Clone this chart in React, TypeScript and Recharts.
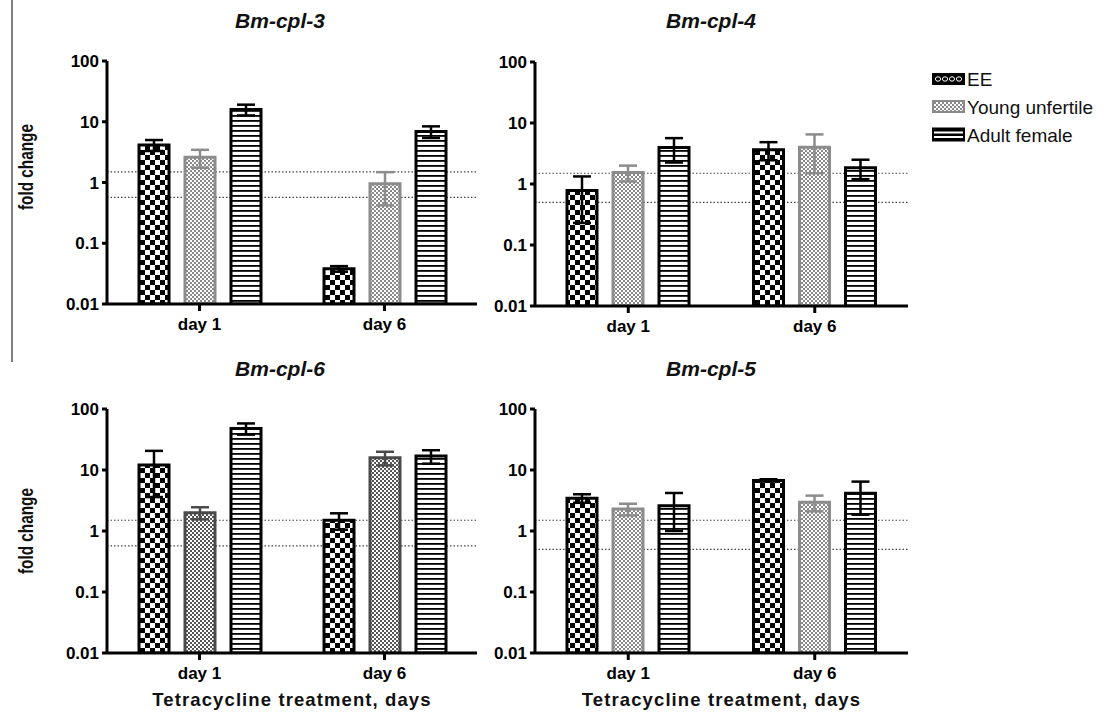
import React from "react";
import { BarChart, Bar, XAxis, YAxis, ErrorBar, ReferenceLine, Label } from "recharts";

const FONT = "Arial, 'Liberation Sans', Helvetica, sans-serif";

const days = ["day 1", "day 6"];
const seriesNames = ["EE", "Young unfertile", "Adult female"];
const yTicks = [0.01, 0.1, 1, 10, 100];
const yDomain = [0.01, 100];

// Bm-cpl-3
const cpl3EE = [4.15, 0.038];
const cpl3EEErr = [0.85, 0.004];
const cpl3YU = [2.6, 0.95];
const cpl3YUErr = [0.85, 0.53];
const cpl3AF = [15.9, 6.9];
const cpl3AFErr = [3.2, 1.5];
const cpl3Cut = [1.5, 0.57];

// Bm-cpl-4
const cpl4EE = [0.78, 3.65];
const cpl4EEErr = [0.55, 1.2];
const cpl4YU = [1.55, 4.0];
const cpl4YUErr = [0.45, 2.5];
const cpl4AF = [3.95, 1.85];
const cpl4AFErr = [1.7, 0.65];
const cpl4Cut = [1.5, 0.5];

// Bm-cpl-6
const cpl6EE = [12.1, 1.5];
const cpl6EEErr = [8.5, 0.45];
const cpl6YU = [2.0, 15.9];
const cpl6YUErr = [0.45, 4];
const cpl6AF = [48, 16.9];
const cpl6AFErr = [10, 4.2];
const cpl6Cut = [1.5, 0.57];

// Bm-cpl-5
const cpl5EE = [3.45, 6.75];
const cpl5EEErr = [0.55, 0.3];
const cpl5YU = [2.3, 2.95];
const cpl5YUErr = [0.5, 0.85];
const cpl5AF = [2.6, 4.15];
const cpl5AFErr = [1.6, 2.3];
const cpl5Cut = [1.5, 0.5];

type PanelProps = {
  id: string;
  x: number;
  y: number;
  w: number;
  h: number;
  margin: { top: number; right: number; left: number; bottom: number };
  yAxisWidth: number;
  xAxisHeight: number;
  ee: number[];
  eeErr: number[];
  yu: number[];
  yuErr: number[];
  af: number[];
  afErr: number[];
  cut: number[];
  yuStroke: string;
  yuFill: string;
  xTitle?: boolean;
};

function Panel(p: PanelProps) {
  const data = days.map((day, i) => ({
    day,
    ee: p.ee[i],
    eeErr: p.eeErr[i],
    yu: p.yu[i],
    yuErr: p.yuErr[i],
    af: p.af[i],
    afErr: p.afErr[i],
  }));
  const axisStyle = { stroke: "#000", strokeWidth: 3 };
  const tickStyle = { fill: "#000", fontSize: 17, fontWeight: "bold", fontFamily: FONT };
  return (
    <div style={{ position: "absolute", left: p.x, top: p.y }}>
      <BarChart width={p.w} height={p.h} data={data} margin={p.margin} barGap={16}>
        <defs>
          <pattern id={`${p.id}-ee`} patternUnits="userSpaceOnUse" width={10} height={10}>
            <rect width={10} height={10} fill="#fff" />
            <rect width={5} height={5} fill="#000" />
            <rect x={5} y={5} width={5} height={5} fill="#000" />
          </pattern>
          <pattern id={`${p.id}-yu`} patternUnits="userSpaceOnUse" width={4} height={4}>
            <rect width={4} height={4} fill="#fff" />
            <rect width={2} height={2} fill={p.yuFill} />
            <rect x={2} y={2} width={2} height={2} fill={p.yuFill} />
          </pattern>
          <pattern id={`${p.id}-af`} patternUnits="userSpaceOnUse" width={10} height={5}>
            <rect width={10} height={5} fill="#fff" />
            <rect width={10} height={1.8} fill="#000" />
          </pattern>
        </defs>
        <XAxis
          dataKey="day"
          height={p.xAxisHeight}
          axisLine={axisStyle}
          tickLine={axisStyle}
          tickSize={7}
          tickMargin={7}
          tick={tickStyle}
        >
          {p.xTitle && (
            <Label
              value="Tetracycline treatment, days"
              position="insideBottom"
              offset={9}
              style={{ fill: "#111", fontSize: 18.5, fontWeight: "bold", fontFamily: FONT, letterSpacing: 1.1 }}
            />
          )}
        </XAxis>
        <YAxis
          type="number"
          scale="log"
          domain={yDomain}
          ticks={yTicks}
          allowDataOverflow
          width={p.yAxisWidth}
          axisLine={axisStyle}
          tickLine={axisStyle}
          tickSize={5}
          tickMargin={3}
          tick={tickStyle}
          tickFormatter={(v: number) => String(v)}
        />
        {p.cut.map((c) => (
          <ReferenceLine
            key={c}
            y={c}
            stroke="#444"
            strokeWidth={1.2}
            strokeDasharray="1.5 2"
            zIndex={0}
          />
        ))}
        <Bar dataKey="ee" name={seriesNames[0]} fill={`url(#${p.id}-ee)`} stroke="#000" strokeWidth={3} barSize={30} isAnimationActive={false}>
          <ErrorBar dataKey="eeErr" direction="y" width={9} stroke="#000" strokeWidth={2.5} />
        </Bar>
        <Bar dataKey="yu" name={seriesNames[1]} fill={`url(#${p.id}-yu)`} stroke={p.yuStroke} strokeWidth={3} barSize={30} isAnimationActive={false}>
          <ErrorBar dataKey="yuErr" direction="y" width={9} stroke={p.yuStroke} strokeWidth={2.5} />
        </Bar>
        <Bar dataKey="af" name={seriesNames[2]} fill={`url(#${p.id}-af)`} stroke="#000" strokeWidth={3} barSize={30} isAnimationActive={false}>
          <ErrorBar dataKey="afErr" direction="y" width={9} stroke="#000" strokeWidth={2.5} />
        </Bar>
      </BarChart>
    </div>
  );
}

const titles = ["Bm-cpl-3", "Bm-cpl-4", "Bm-cpl-6", "Bm-cpl-5"];

function Overlay() {
  const legendRows = [79, 106.5, 134.5];
  return (
    <svg
      width={1112}
      height={715}
      style={{ position: "absolute", left: 0, top: 0, pointerEvents: "none", fontFamily: FONT }}
    >
      <line x1={12} y1={0} x2={12} y2={362} stroke="#000" strokeWidth={1} />
      <g fontSize={21} fontWeight="bold" fontStyle="italic" fill="#111" textAnchor="middle">
        <text x={280} y={28}>{titles[0]}</text>
        <text x={711} y={28}>{titles[1]}</text>
        <text x={280} y={376}>{titles[2]}</text>
        <text x={711} y={376}>{titles[3]}</text>
      </g>
      <g fontSize={20} fontWeight="bold" fill="#111" textAnchor="middle">
        <text x={33} y={167} transform="rotate(-90 33 167)" textLength={86} lengthAdjust="spacingAndGlyphs">fold change</text>
        <text x={33} y={531} transform="rotate(-90 33 531)" textLength={86} lengthAdjust="spacingAndGlyphs">fold change</text>
      </g>
      <defs>
        <pattern id="lg-yu" patternUnits="userSpaceOnUse" width={4} height={4}>
          <rect width={4} height={4} fill="#fff" />
          <rect width={2} height={2} fill="#8a8a8a" />
          <rect x={2} y={2} width={2} height={2} fill="#8a8a8a" />
        </pattern>
      </defs>
      {/* legend */}
      <g>
        <rect x={932} y={legendRows[0] - 6} width={33} height={12} fill="#000" />
        {[937, 944, 951, 958].map((cx) => (
          <ellipse key={cx} cx={cx + 1} cy={legendRows[0]} rx={2.6} ry={2.2} fill="#000" stroke="#fff" strokeWidth={1} />
        ))}
        <rect x={933} y={legendRows[1] - 5.5} width={31} height={11} fill="url(#lg-yu)" stroke="#8a8a8a" strokeWidth={2} />
        <rect x={933} y={legendRows[2] - 6} width={31} height={12} fill="#000" stroke="#000" strokeWidth={2} />
        <rect x={934} y={legendRows[2] - 3} width={29} height={2} fill="#fff" />
        <rect x={934} y={legendRows[2] + 1.5} width={29} height={2} fill="#fff" />
      </g>
      <g fontSize={19} fill="#111">
        {seriesNames.map((n, i) => (
          <text key={n} x={967} y={legendRows[i] + 7}>{n}</text>
        ))}
      </g>
    </svg>
  );
}

export default function App() {
  const topMargin = { top: 61, right: 23, left: 47, bottom: 0 };
  const topRightMargin = { top: 62, right: 10, left: 0, bottom: 0 };
  const botMargin = { top: 61, right: 23, left: 47, bottom: 0 };
  const botRightMargin = { top: 61, right: 10, left: 0, bottom: 0 };
  return (
    <div style={{ position: "absolute", left: 0, top: 0, width: 1112, height: 715, background: "#fff", fontFamily: FONT, overflow: "hidden" }}>
      <Panel id="c3" x={0} y={0} w={500} h={345} margin={topMargin} yAxisWidth={60} xAxisHeight={41}
        ee={cpl3EE} eeErr={cpl3EEErr} yu={cpl3YU} yuErr={cpl3YUErr} af={cpl3AF} afErr={cpl3AFErr}
        cut={cpl3Cut} yuStroke="#8c8c8c" yuFill="#8a8a8a" />
      <Panel id="c4" x={475} y={0} w={443} h={345} margin={topRightMargin} yAxisWidth={60} xAxisHeight={39}
        ee={cpl4EE} eeErr={cpl4EEErr} yu={cpl4YU} yuErr={cpl4YUErr} af={cpl4AF} afErr={cpl4AFErr}
        cut={cpl4Cut} yuStroke="#8c8c8c" yuFill="#8a8a8a" />
      <Panel id="c6" x={0} y={348} w={500} h={367} margin={botMargin} yAxisWidth={60} xAxisHeight={62}
        ee={cpl6EE} eeErr={cpl6EEErr} yu={cpl6YU} yuErr={cpl6YUErr} af={cpl6AF} afErr={cpl6AFErr}
        cut={cpl6Cut} yuStroke="#4a4a4a" yuFill="#555" xTitle />
      <Panel id="c5" x={475} y={348} w={443} h={367} margin={botRightMargin} yAxisWidth={60} xAxisHeight={62}
        ee={cpl5EE} eeErr={cpl5EEErr} yu={cpl5YU} yuErr={cpl5YUErr} af={cpl5AF} afErr={cpl5AFErr}
        cut={cpl5Cut} yuStroke="#8c8c8c" yuFill="#8a8a8a" xTitle />
      <Overlay />
    </div>
  );
}
